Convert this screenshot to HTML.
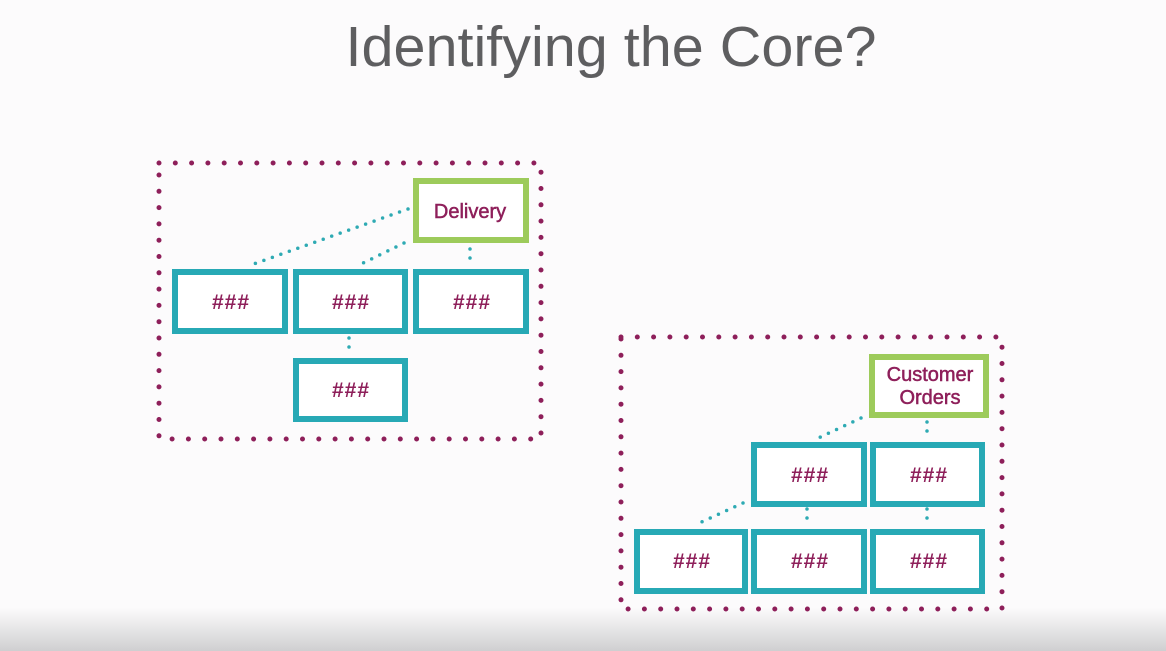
<!DOCTYPE html>
<html><head><meta charset="utf-8"><style>
html,body{margin:0;padding:0;width:1166px;height:651px;overflow:hidden;background:#fcfbfc;}
</style></head><body>
<svg width="1166" height="651" xmlns="http://www.w3.org/2000/svg">
<defs><linearGradient id="g" x1="0" y1="0" x2="0" y2="1"><stop offset="0" stop-color="#fcfbfc"/><stop offset="1" stop-color="#cfcfd1"/></linearGradient></defs>
<rect x="0" y="0" width="1166" height="651" fill="#fcfbfc"/>
<rect x="0" y="608" width="1166" height="43" fill="url(#g)"/>
<text x="611" y="66" text-anchor="middle" font-family="Liberation Sans, sans-serif" font-size="57" fill="#5e5e60" textLength="531" lengthAdjust="spacingAndGlyphs">Identifying the Core?</text>
<g fill="none" stroke="#8e1f5a" stroke-width="5" stroke-linecap="round" stroke-dasharray="0 16.3">
<rect x="159" y="163" width="382" height="276"/>
<rect x="621" y="337" width="381" height="272"/>
</g>
<g fill="none" stroke="#2eaab3" stroke-width="3.5" stroke-linecap="round" stroke-dasharray="0 9">
<line x1="408" y1="209" x2="248" y2="266"/>
<line x1="404" y1="243" x2="357" y2="266"/>
<line x1="470" y1="249" x2="470" y2="262"/>
<line x1="349" y1="338" x2="349" y2="352"/>
<line x1="861" y1="418" x2="814" y2="440"/>
<line x1="927" y1="422" x2="927" y2="434"/>
<line x1="743" y1="503" x2="697" y2="524"/>
<line x1="807" y1="509" x2="807" y2="522"/>
<line x1="927" y1="509" x2="927" y2="522"/>
</g>
<g fill="#fff" stroke="#27a9b5" stroke-width="6">
<rect x="175" y="272" width="110" height="59"/>
<rect x="296" y="272" width="109" height="59"/>
<rect x="416" y="272" width="110" height="59"/>
<rect x="296" y="361" width="109" height="58"/>
<rect x="754" y="445" width="110" height="59"/>
<rect x="873" y="445" width="109" height="59"/>
<rect x="637" y="532" width="108" height="59"/>
<rect x="754" y="532" width="110" height="59"/>
<rect x="873" y="532" width="109" height="59"/>
</g>
<g fill="#fff" stroke="#9dcb5b" stroke-width="6">
<rect x="416" y="181" width="110" height="59"/>
<rect x="872" y="357" width="114" height="58"/>
</g>
<g font-family="Liberation Sans, sans-serif" font-size="21" font-weight="bold" fill="#8e1f5a" text-anchor="middle" letter-spacing="1">
<text x="231" y="309">###</text>
<text x="351" y="309">###</text>
<text x="472" y="309">###</text>
<text x="351" y="397">###</text>
<text x="810" y="482">###</text>
<text x="929" y="482">###</text>
<text x="692" y="568">###</text>
<text x="810" y="568">###</text>
<text x="929" y="568">###</text>
</g>
<g font-family="Liberation Sans, sans-serif" font-size="20" fill="#8e1f5a" stroke="#8e1f5a" stroke-width="0.5" text-anchor="middle">
<text x="470" y="218">Delivery</text>
<text x="930" y="381">Customer</text>
<text x="930" y="404">Orders</text>
</g>
</svg>
</body></html>
